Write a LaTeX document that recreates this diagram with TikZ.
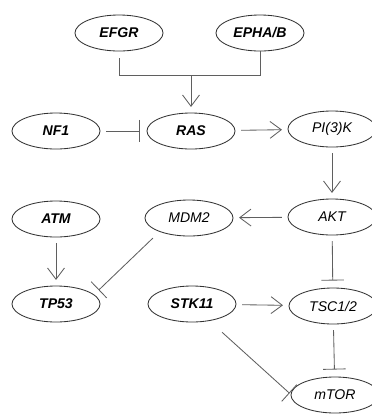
\documentclass[tikz,border=0pt]{standalone}
\usepackage{fontspec}
\setmainfont{Liberation Sans}
\usepackage{xcolor}
\usetikzlibrary{positioning, arrows.meta, shapes.geometric}
\definecolor{lgray}{RGB}{95,95,95}
\definecolor{egray}{RGB}{50,50,50}

\begin{document}
\begin{tikzpicture}[x=0.025cm, y=-0.025cm,
        every node/.style={font=\fontsize{10}{12}\selectfont\itshape},
        gene/.style={draw=egray, ellipse, minimum width=2.2cm, minimum height=0.9cm, inner sep=0pt, semithick},
        mut/.style={gene, font=\fontsize{10}{12}\selectfont\bfseries\itshape},
        link/.style={draw=lgray, semithick},
        act/.style={link, -{Straight Barb[length=8pt, width=12pt]}, shorten <=4pt, shorten >=4pt},
        inh/.style={link, -{Bar[width=16pt]}, shorten <=4pt, shorten >=5pt}]
      \useasboundingbox (0,0) rectangle (372,417);

      % receptors
      \node[mut] (efgr) at (119,33) {EFGR};
      \node[mut] (epha) at (260,33) {EPHA/B};
      \coordinate (join) at (191,75);

      \node[mut] (nf1) at (56,131) {NF1};
      \node[mut] (ras) at (191,131) {RAS};
      \node[gene] (pik) at (332,129) {PI(3)K};

      \node[mut] (atm) at (56,219) {ATM};
      \node[gene] (mdm) at (189,218) {MDM2};
      \node[gene] (akt) at (332,217) {AKT};

      \node[mut] (tp) at (56,304) {TP53};
      \node[mut] (stk) at (192,304) {STK11};
      \node[gene] (tsc) at (333,306) {TSC1/2};

      \node[gene] (mtor) at (335,395) {mTOR};

      \draw[link, shorten <=5pt] (efgr) -- (efgr |- join) -- (epha |- join) -- (epha);
      \draw[act, shorten <=0pt] (join) -- (ras);

      \draw[inh] (nf1) -- (ras);
      \draw[act] (ras) -- (pik);
      \draw[act] (pik) -- (akt);
      \draw[act] (akt) -- (mdm);
      \draw[act] (atm) -- (tp);
      \draw[inh, shorten <=6.5pt, shorten >=4.5pt] (mdm.205) -- (tp.14);
      \draw[act] (stk) -- (tsc);
      \draw[inh] (akt) -- (tsc);
      \draw[inh] (tsc) -- (mtor);
      \draw[inh, shorten <=12pt, shorten >=1pt] (stk.-44) -- (mtor.179);
    \end{tikzpicture}
\end{document}
